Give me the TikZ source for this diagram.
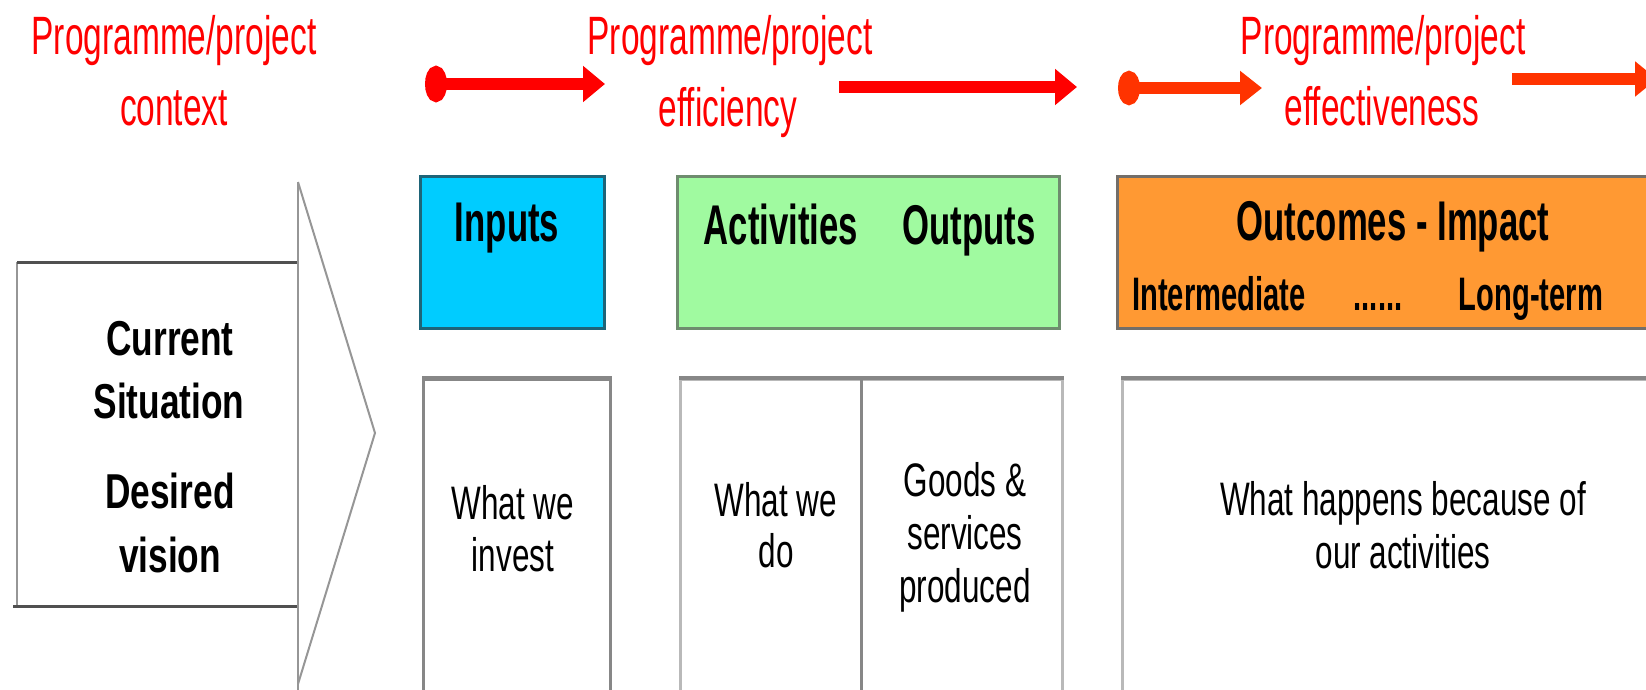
\documentclass[tikz,border=0pt]{standalone}
\usepackage{fontspec}
\setmainfont{Liberation Sans}
\newfontfamily\nfa{Liberation Sans}[FakeStretch=0.62]
\newfontfamily\nfb{Liberation Sans}[FakeStretch=0.67]
\newfontfamily\nfc{Liberation Sans}[FakeStretch=0.72]
\usetikzlibrary{arrows.meta}
\definecolor{hred}{RGB}{255,0,0}
\definecolor{hora}{RGB}{255,51,0}
\definecolor{incyan}{RGB}{0,204,255}
\definecolor{incyanb}{RGB}{30,100,120}
\definecolor{actgreen}{RGB}{160,250,160}
\definecolor{actgreenb}{RGB}{110,140,110}
\definecolor{outor}{RGB}{255,153,51}
\definecolor{outorb}{RGB}{115,110,105}
\definecolor{lowb}{RGB}{135,135,135}
\definecolor{lowbl}{RGB}{185,185,185}
\definecolor{csdark}{RGB}{80,80,80}
\definecolor{cslight}{RGB}{150,150,150}
\begin{document}
\begin{tikzpicture}[x=1pt,y=-1pt,
  redtxt/.style={text=hred, font=\nfa\fontsize{54}{60}\selectfont, anchor=base, inner sep=0pt},
  hdr/.style={font=\nfa\bfseries\fontsize{56}{62}\selectfont, anchor=base, inner sep=0pt},
  subhdr/.style={font=\nfa\bfseries\fontsize{47}{52}\selectfont, anchor=base, inner sep=0pt},
  body/.style={font=\nfb\fontsize{47}{52}\selectfont, anchor=base, inner sep=0pt},
  curtxt/.style={font=\nfc\bfseries\fontsize{49}{55}\selectfont, anchor=base, inner sep=0pt},
  redarrow/.style={line width=12pt, draw=hred, -{Triangle[length=22pt,width=35pt]}},
  orarrow/.style={line width=12pt, draw=hora, -{Triangle[length=22pt,width=34pt]}},
  topbox/.style={line width=3pt, anchor=north west, inner sep=0pt, minimum height=152pt},
  lowbox/.style={draw=lowb, line width=3pt, anchor=north west, inner sep=0pt, minimum height=340pt}
]
\useasboundingbox (0,0) rectangle (1646,690);
\clip (0,0) rectangle (1646,690);

% red headings
\node[redtxt] (ctx1) at (174,55) {Programme/project};
\node[redtxt] (ctx2) at (174,126) {context};
\node[redtxt] (eff1) at (730,55) {Programme/project};
\node[redtxt] (eff2) at (728,127) {efficiency};
\node[redtxt] (efv1) at (1383,55) {Programme/project};
\node[redtxt] (efv2) at (1382,125) {effectiveness};

% red arrows
\coordinate (a1s) at (425,84);  \coordinate (a1e) at (605,84);
\coordinate (a2s) at (839,87);  \coordinate (a2e) at (1077,87);
\coordinate (a3s) at (1118,88); \coordinate (a3e) at (1262,88);
\coordinate (a4s) at (1512,79); \coordinate (a4e) at (1657,79);
\draw[redarrow, {Ellipse[length=22pt,width=36pt]}-{Triangle[length=22pt,width=35pt]}] (a1s) -- (a1e);
\draw[redarrow] (a2s) -- (a2e);
\draw[orarrow, {Ellipse[length=22pt,width=34pt]}-{Triangle[length=22pt,width=33pt]}] (a3s) -- (a3e);
\draw[orarrow] (a4s) -- (a4e);

% left block arrow
\node[anchor=north west, inner sep=0pt, minimum width=281pt, minimum height=344pt] (cs) at (17,262) {};
\draw[cslight, line width=2.5pt] (cs.north west) -- (cs.south west);
\draw[csdark, line width=3pt] (cs.north west) -- (cs.north east);
\draw[csdark, line width=3pt] ([xshift=-4pt]cs.south west) -- (cs.south east);
\coordinate (chtop) at (298,182);
\coordinate (chtip) at (375,433);
\coordinate (chbot) at (298,684);
\draw[cslight, line width=2.5pt] (chtop) -- (298,700);
\draw[cslight, line width=2pt, line join=miter] (chtop) -- (chtip) -- (chbot);
\node[curtxt] (cur1) at (170,355) {Current};
\node[curtxt] (cur2) at (169,418) {Situation};
\node[curtxt] (cur3) at (170,508) {Desired};
\node[curtxt] (cur4) at (170,572) {vision};

% top boxes
\node[topbox, draw=incyanb, fill=incyan, minimum width=184pt] (inbox) at (419,175) {};
\node[topbox, draw=actgreenb, fill=actgreen, minimum width=382pt] (actbox) at (676,175) {};
\node[topbox, draw=outorb, fill=outor, minimum width=560pt] (outbox) at (1116,175) {};
\node[hdr] (inlab) at (507,241) {Inputs};
\node[hdr] (actlab) at (781,244) {Activities};
\node[hdr] (outplab) at (969,244) {Outputs};
\node[hdr] (oclab) at (1393,240) {Outcomes - Impact};
\node[subhdr] (intlab) at (1219,310) {Intermediate};
\node[subhdr] (dotlab) at (1378,310) {......};
\node[subhdr] (ltlab) at (1531,310) {Long-term};

% lower boxes
\node[lowbox, minimum width=187pt] (inlow) at (422,378) {};
\draw[lowb, line width=4pt] (inlow.north west) -- (inlow.north east);
\node[lowbox, draw=lowbl, minimum width=382pt] (actlow) at (679,378) {};
\draw[lowb, line width=4pt] (actlow.north west) -- (actlow.north east);
\coordinate (divtop) at (861,378);
\coordinate (divbot) at (861,720);
\draw[lowb, line width=3pt] (divtop) -- (divbot);
\node[lowbox, draw=lowbl, minimum width=560pt] (outlow) at (1121,378) {};
\draw[lowb, line width=4pt] (outlow.north west) -- (outlow.north east);

\node[body] (t1a) at (513,519) {What we};
\node[body] (t1b) at (513,571) {invest};
\node[body] (t2a) at (776,516) {What we};
\node[body] (t2b) at (776,567) {do};
\node[body] (t3a) at (965,496) {Goods \&};
\node[body] (t3b) at (965,549) {services};
\node[body] (t3c) at (965,602) {produced};
\node[body] (t4a) at (1403,515) {What happens because of};
\node[body] (t4b) at (1403,568) {our activities};
\end{tikzpicture}
\end{document}
